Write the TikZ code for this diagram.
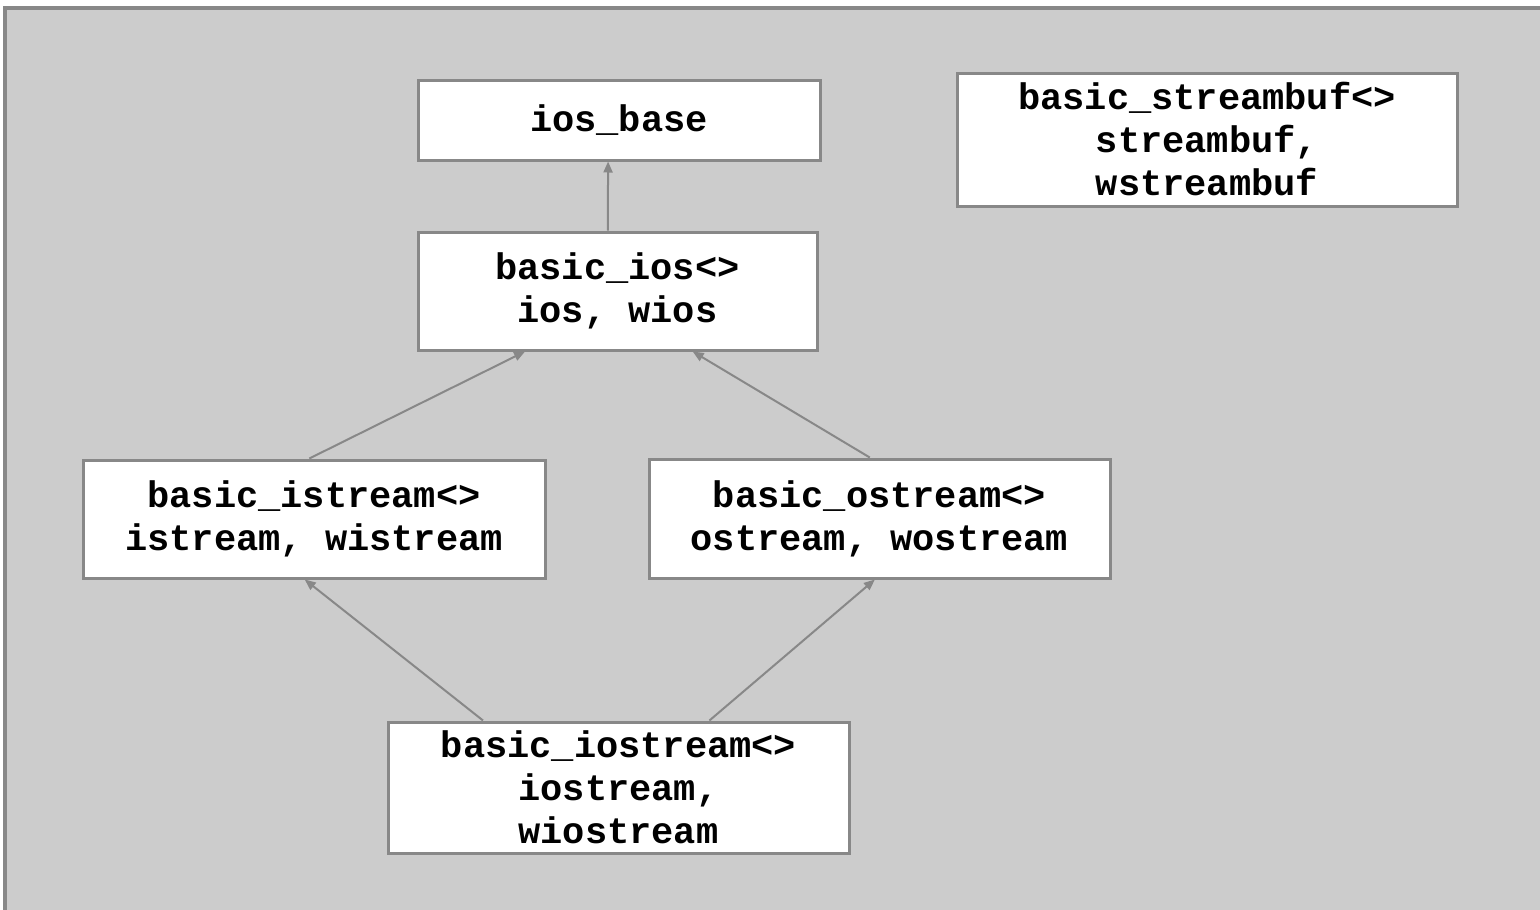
\documentclass[tikz,border=0pt]{standalone}
\usepackage{fontspec}
\usepackage{tikz}
\usetikzlibrary{calc,arrows.meta}
\newfontfamily\codefont{Liberation Mono}
\definecolor{panelgray}{HTML}{CCCCCC}
\definecolor{edgegray}{HTML}{888888}

\begin{document}
\begin{tikzpicture}[x=1pt,y=-1pt,>={Triangle[length=11pt,width=9pt]},
  cls/.style={draw=edgegray,line width=3pt,fill=white,align=center,inner sep=0pt,
    font=\codefont\bfseries\fontsize{37}{43}\selectfont},
  inherit/.style={->,edgegray,line width=2pt}]
  \useasboundingbox (0,0) rectangle (1540,910);
  \clip (0,0) rectangle (1540,910);
  % background panel
  \draw[edgegray,line width=4pt,fill=panelgray] (5,8) rectangle (1580,950);
  % classes
  \node[cls,minimum width=402pt,minimum height=80pt] (iosbase) at (619,120) {ios\_base};
  \node[cls,minimum width=500pt,minimum height=133pt] (streambuf) at (1207,139.5)
    {basic\_streambuf<>\\streambuf,\\wstreambuf};
  \node[cls,minimum width=399pt,minimum height=118pt] (ios) at (617.5,291) {basic\_ios<>\\ios, wios};
  \node[cls,minimum width=462pt,minimum height=118pt] (istream) at (314,519)
    {basic\_istream<>\\istream, wistream};
  \node[cls,minimum width=461pt,minimum height=119pt] (ostream) at (879.5,518.5)
    {basic\_ostream<>\\ostream, wostream};
  \node[cls,minimum width=461pt,minimum height=131pt] (iostream) at (618.5,787.5)
    {basic\_iostream<>\\iostream,\\wiostream};
  % inheritance arrows
  \draw[inherit] ($(ios.north west)!0.476!(ios.north east)$) -- ($(iosbase.south west)!0.473!(iosbase.south east)$);
  \draw[inherit] ($(istream.north west)!0.49!(istream.north east)$) -- ($(ios.south west)!0.27!(ios.south east)$);
  \draw[inherit] ($(ostream.north west)!0.479!(ostream.north east)$) -- ($(ios.south west)!0.687!(ios.south east)$);
  \draw[inherit] ($(iostream.north west)!0.208!(iostream.north east)$) -- ($(istream.south west)!0.48!(istream.south east)$);
  \draw[inherit] ($(iostream.north west)!0.696!(iostream.north east)$) -- ($(ostream.south west)!0.49!(ostream.south east)$);
\end{tikzpicture}
\end{document}
